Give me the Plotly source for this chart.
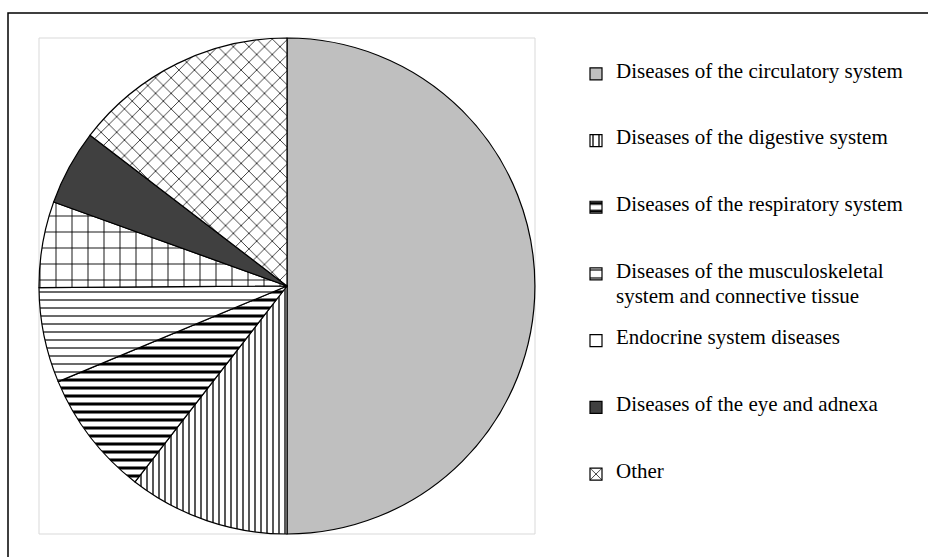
import plotly.graph_objects as go

W, H = 928, 557

categories = [
    "Diseases of the circulatory system",
    "Diseases of the digestive system",
    "Diseases of the respiratory system",
    "Diseases of the musculoskeletal<br>system and connective tissue",
    "Endocrine system diseases",
    "Diseases of the eye and adnexa",
    "Other",
]
values = [50.0, 10.5, 8.2, 6.2, 5.6, 4.9, 14.6]

fill_colors = ["#bfbfbf", "white", "white", "white", "white", "#404040", "white"]
pattern_shapes = ["", "|", "-", "-", "+", "", "x"]
pattern_fg = ["black", "black", "black", "#444444", "black", "black", "black"]
pattern_size = [8, 6, 8, 8, 16, 8, 11]
pattern_solid = [0.3, 0.22, 0.38, 0.2, 0.11, 0.3, 0.13]

LEGEND_TEXT_PX = 21
LINES_PER_ITEM = 5
# each legend entry: text lines (with a blank line between wrapped lines), padded
legend_labels = []
for c in categories:
    parts = c.split("<br>")
    spans = [f'<span style="font-size:{LEGEND_TEXT_PX}px">{p}</span>' for p in parts]
    label = "<br> <br>".join(spans)
    used = 2 * len(parts) - 1
    legend_labels.append(label + "<br> " * (LINES_PER_ITEM - used))

fig = go.Figure(
    go.Pie(
        labels=legend_labels,
        values=values,
        sort=False,
        direction="clockwise",
        rotation=0,
        textinfo="none",
        hoverinfo="percent",
        marker=dict(
            colors=fill_colors,
            line=dict(color="black", width=1.2),
            pattern=dict(
                shape=pattern_shapes,
                fgcolor=pattern_fg,
                bgcolor=fill_colors,
                size=pattern_size,
                solidity=pattern_solid,
                fgopacity=1,
                fillmode="overlay",
            ),
        ),
        domain=dict(x=[39 / W, 535 / W], y=[1 - 534 / H, 1 - 38 / H]),
    )
)

shapes = [
    # plot area frame
    dict(type="rect", xref="paper", yref="paper",
         x0=39 / W, x1=535 / W, y0=1 - 534 / H, y1=1 - 38 / H,
         line=dict(color="#d9d9d9", width=1), layer="below"),
    # outer chart border
    dict(type="rect", xref="paper", yref="paper",
         x0=8 / W, x1=1.05, y0=-0.05, y1=1 - 13 / H,
         line=dict(color="black", width=1.5)),
]

fig.update_layout(
    width=W, height=H,
    margin=dict(l=0, r=0, t=0, b=0, autoexpand=False),
    paper_bgcolor="white",
    plot_bgcolor="white",
    shapes=shapes,
    font=dict(family="Liberation Serif, Times New Roman, serif", color="black", size=17),
    legend=dict(
        x=576 / W, xanchor="left",
        y=1 - 61 / H, yanchor="top",
        valign="top",
        font=dict(size=9.8, family="Liberation Serif, Times New Roman, serif", color="black"),
        bgcolor="rgba(0,0,0,0)",
        traceorder="normal",
    ),
    showlegend=True,
)

fig.write_html(
    "out.html",
    config={"displayModeBar": False},
    post_script="document.body.style.margin='0px';document.body.style.overflow='hidden';",
)
